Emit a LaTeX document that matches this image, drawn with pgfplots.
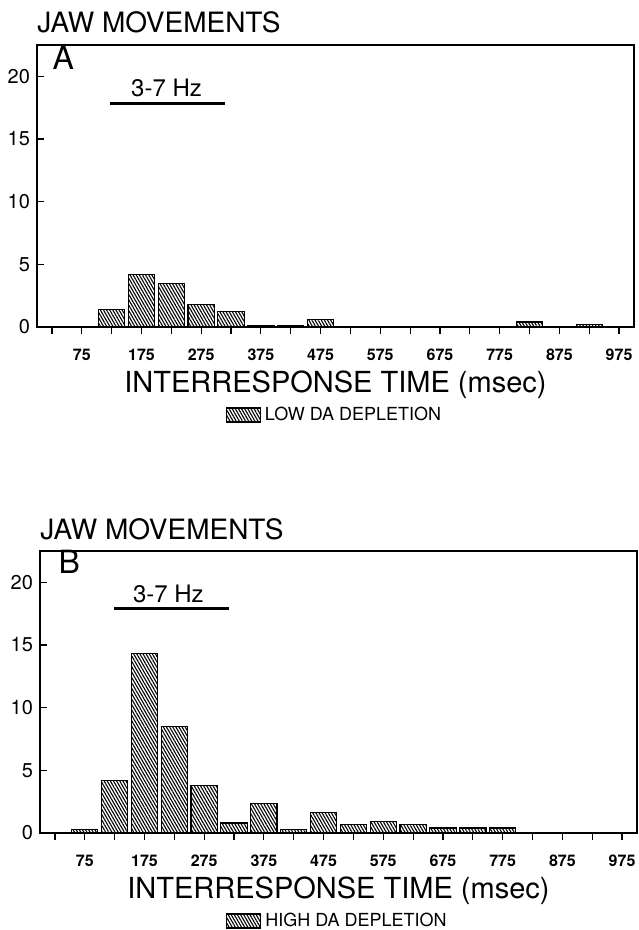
\documentclass[border=0pt]{standalone}
\usepackage{fontspec}
\setmainfont{TeX Gyre Heros}
\usepackage{pgfplots}
\pgfplotsset{compat=1.18}
\usetikzlibrary{patterns.meta}

\pgfplotsset{
  jawstyle/.style={
    scale only axis, width=298.5pt, height=141pt,
    xmin=0, xmax=1000, ymin=0, ymax=22.5,
    axis line style={line width=0.6pt},
    xtick={75,175,...,975},
    minor xtick={25,125,...,925},
    ytick={0,5,...,20},
    tick align=inside,
    xtick pos=bottom, ytick pos=left,
    major tick length=3.5pt, minor tick length=3.5pt,
    tick style={black, line width=0.6pt},
    xticklabel style={font=\bfseries\fontsize{8}{10}\selectfont, yshift=-4pt},
    yticklabel style={font=\fontsize{10}{12}\selectfont},
    /pgf/number format/assume math mode=true,
    xlabel={INTERRESPONSE TIME (msec)},
    xlabel style={at={(axis description cs:0.5,0)}, anchor=center,
      yshift=-29pt, font=\fontsize{14.5}{16}\selectfont},
    ybar, bar width=44,
    clip=false,
    legend style={at={(0.5,0)}, anchor=center, yshift=-44pt, draw=none,
      font=\fontsize{9}{11}\selectfont, inner sep=0pt},
    legend image code/.code={\draw[#1] (0pt,-3.5pt) rectangle (17pt,3.5pt);},
  },
  hatch/.style={draw=black, line width=0.55pt,
    pattern={Lines[angle=120,distance=1.35pt,line width=0.55pt]},
    pattern color=black},
}

\begin{document}
\begin{tikzpicture}
\useasboundingbox (0,0) rectangle (319pt,465pt);

% panel A
\node[anchor=base west, inner sep=0pt, font=\fontsize{14}{16}\selectfont]
  at (18.5pt,448.5pt) {JAW MOVEMENTS};
\begin{axis}[jawstyle, at={(18.5pt,301.5pt)}, anchor=south west]
\addplot[hatch] coordinates {
  (125,1.42)(175,4.2)(225,3.5)(275,1.77)(325,1.24)
  (375,0.15)(425,0.15)(475,0.62)(825,0.4)(925,0.2)
};
\addlegendentry{LOW DA DEPLETION}
\node[font=\fontsize{16}{18}\selectfont] at (axis cs:44,21.5) {A};
\node[font=\fontsize{12}{14}\selectfont] at (axis cs:217,19.1) {3-7 Hz};
\draw[line width=1.4pt] (axis cs:123,17.85) -- (axis cs:315,17.85);
\end{axis}

% panel B
\node[anchor=base west, inner sep=0pt, font=\fontsize{14}{16}\selectfont]
  at (20pt,195pt) {JAW MOVEMENTS};
\begin{axis}[jawstyle, at={(20pt,48.5pt)}, anchor=south west]
\addplot[hatch] coordinates {
  (75,0.25)(125,4.2)(175,14.3)(225,8.5)(275,3.8)(325,0.8)(375,2.35)
  (425,0.3)(475,1.6)(525,0.65)(575,0.9)(625,0.65)(675,0.4)(725,0.4)(775,0.4)
};
\addlegendentry{HIGH DA DEPLETION}
\node[font=\fontsize{16}{18}\selectfont] at (axis cs:49,21.6) {B};
\node[font=\fontsize{12}{14}\selectfont] at (axis cs:215,19.1) {3-7 Hz};
\draw[line width=1.4pt] (axis cs:124,17.9) -- (axis cs:316,17.9);
\end{axis}
\end{tikzpicture}
\end{document}
